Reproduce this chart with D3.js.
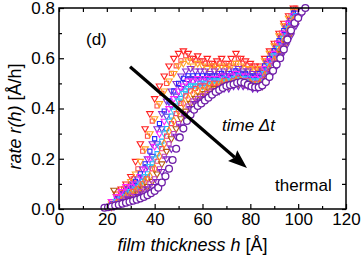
<!DOCTYPE html>
<html>
<head>
<meta charset="utf-8">
<script src="https://cdn.jsdelivr.net/npm/d3@7"></script>
<style>
  body { margin: 0; background: #fff; }
  svg text { font-family: "Liberation Sans", Arial, sans-serif; fill: #000; }
</style>
</head>
<body>
<div id="chart"></div>
<script>
const w = 361, h = 258

// thickness grids (Angstrom); time steps alternate between them
const thicknessEven = [20, 22, 24, 26, 28, 30, 32, 34, 36, 38, 40, 42, 44, 46, 48, 50, 52, 54, 56, 58, 60,
    62, 64, 66, 68, 70, 72, 74, 76, 78, 80, 82, 84, 86, 88, 90, 92, 94, 96, 98, 100, 102]
const thicknessOdd = [21, 23, 25, 27, 29, 31, 33, 35, 37, 39, 41, 43, 45, 47, 49, 51, 53, 55, 57, 59, 61,
    63, 65, 67, 69, 71, 73, 75, 77, 79, 81, 83, 85, 87, 89, 91, 93, 95, 97, 99, 101, 103]
const thicknessThermal = [19, 20.5, 22, 23.5, 25, 26.5, 28, 29.5, 31, 32.5, 34, 35.5, 37, 38.5, 40, 41.5, 43, 44.5, 46, 47.5,
    49, 50.5, 52, 53.5, 55, 56.5, 58, 59.5, 61, 62.5, 64, 65.5, 67, 68.5, 70, 71.5, 73, 74.5, 76, 77.5,
    79, 80.5, 82, 83.5, 85, 86.5, 88, 89.5, 91, 92.5, 94, 95.5, 97, 98.5, 100, 101.5, 103]

// rate r(h) for each time step, earliest first
const rateRed = [null, 0.03, 0.06, 0.08, 0.10, 0.13, 0.19, 0.26, 0.32, 0.38, 0.44, 0.49, 0.53, 0.57, 0.60, 0.62, 0.63, 0.62, 0.60, 0.61, 0.59,
    0.60, 0.58, 0.59, 0.60, 0.58, 0.60, 0.62, 0.60, 0.59, 0.58, 0.57, 0.57, 0.60, 0.63, 0.66, 0.70, 0.74, 0.77, 0.80, null, null]
const rateRose = [null, 0.02, 0.05, 0.08, 0.09, 0.12, 0.16, 0.23, 0.29, 0.35, 0.41, 0.46, 0.50, 0.54, 0.57, 0.59, 0.61, 0.60, 0.59, 0.59, 0.58,
    0.58, 0.57, 0.58, 0.58, 0.57, 0.58, 0.60, 0.58, 0.57, 0.57, 0.56, 0.56, 0.59, 0.62, 0.66, 0.70, 0.73, 0.77, 0.80, null, null]
const rateOrange = [null, 0.02, 0.05, 0.07, 0.09, 0.11, 0.14, 0.19, 0.24, 0.30, 0.36, 0.42, 0.47, 0.51, 0.54, 0.57, 0.58, 0.59, 0.57, 0.58, 0.57,
    0.56, 0.57, 0.56, 0.57, 0.56, 0.57, 0.58, 0.57, 0.56, 0.56, 0.55, 0.56, 0.59, 0.62, 0.65, 0.69, 0.73, 0.76, 0.79, null, null]
const ratePurple = [null, 0.02, 0.04, 0.06, 0.08, 0.10, 0.12, 0.16, 0.20, 0.26, 0.32, 0.38, 0.43, 0.47, 0.50, 0.53, 0.55, 0.56, 0.55, 0.55, 0.55,
    0.54, 0.55, 0.54, 0.55, 0.54, 0.55, 0.56, 0.55, 0.55, 0.54, 0.54, 0.55, 0.58, 0.61, 0.64, 0.68, 0.72, 0.75, 0.78, null, null]
const rateBlue = [null, 0.02, 0.04, 0.05, 0.07, 0.09, 0.11, 0.14, 0.18, 0.23, 0.28, 0.34, 0.39, 0.43, 0.47, 0.50, 0.52, 0.53, 0.53, 0.53, 0.53,
    0.53, 0.53, 0.53, 0.54, 0.53, 0.54, 0.55, 0.54, 0.54, 0.53, 0.53, 0.54, 0.57, 0.60, 0.63, 0.67, 0.71, 0.74, 0.78, null, null]
const rateIndigo = [null, 0.02, 0.04, 0.06, 0.08, 0.09, 0.10, 0.13, 0.17, 0.21, 0.26, 0.32, 0.37, 0.41, 0.45, 0.48, 0.50, 0.52, 0.52, 0.52, 0.52,
    0.53, 0.52, 0.53, 0.53, 0.52, 0.53, 0.54, 0.54, 0.53, 0.53, 0.52, 0.53, 0.56, 0.59, 0.62, 0.66, 0.70, 0.74, 0.77, null, null]
const rateMagenta = [null, 0.03, 0.05, 0.07, 0.09, 0.09, 0.10, 0.13, 0.16, 0.20, 0.25, 0.30, 0.35, 0.40, 0.44, 0.47, 0.49, 0.51, 0.51, 0.52, 0.51,
    0.52, 0.52, 0.52, 0.53, 0.52, 0.53, 0.54, 0.53, 0.53, 0.52, 0.52, 0.53, 0.56, 0.59, 0.62, 0.66, 0.70, 0.74, 0.77, null, null]
const rateCyan = [null, 0.01, 0.03, 0.04, 0.06, 0.07, 0.09, 0.11, 0.14, 0.18, 0.22, 0.27, 0.32, 0.37, 0.41, 0.44, 0.47, 0.49, 0.49, 0.50, 0.50,
    0.51, 0.51, 0.51, 0.52, 0.51, 0.52, 0.53, 0.52, 0.52, 0.51, 0.51, 0.52, 0.55, 0.58, 0.61, 0.65, 0.69, 0.73, 0.77, null, null]
const rateSky = [null, 0.01, 0.03, 0.04, 0.05, 0.07, 0.08, 0.10, 0.13, 0.17, 0.20, 0.25, 0.30, 0.35, 0.39, 0.43, 0.46, 0.48, 0.49, 0.49, 0.49,
    0.50, 0.50, 0.51, 0.51, 0.51, 0.51, 0.52, 0.52, 0.51, 0.51, 0.50, 0.51, 0.54, 0.57, 0.61, 0.64, 0.68, 0.72, 0.76, null, null]
const ratePink = [null, 0.01, 0.03, 0.04, 0.05, 0.07, 0.08, 0.10, 0.12, 0.16, 0.19, 0.24, 0.29, 0.34, 0.38, 0.42, 0.45, 0.47, 0.48, 0.49, 0.49,
    0.50, 0.50, 0.50, 0.51, 0.50, 0.51, 0.52, 0.51, 0.51, 0.50, 0.50, 0.51, 0.54, 0.57, 0.60, 0.64, 0.68, 0.72, 0.76, null, null]
const rateAmber = [null, 0.01, 0.02, 0.03, 0.05, 0.06, 0.07, 0.09, 0.11, 0.13, 0.16, 0.21, 0.26, 0.31, 0.35, 0.39, 0.42, 0.44, 0.46, 0.47, 0.47,
    0.48, 0.49, 0.49, 0.50, 0.50, 0.50, 0.51, 0.51, 0.50, 0.50, 0.49, 0.50, 0.53, 0.56, 0.59, 0.63, 0.67, 0.71, 0.75, null, null]
const rateBrown = [null, 0.075, 0.02, 0.03, 0.04, 0.05, 0.06, 0.08, 0.09, 0.11, 0.14, 0.18, 0.23, 0.28, 0.32, 0.36, 0.39, 0.42, 0.44, 0.45, 0.46,
    0.47, 0.48, 0.48, 0.49, 0.49, 0.50, 0.50, 0.50, 0.50, 0.49, 0.49, 0.49, 0.52, 0.55, 0.58, 0.62, 0.66, 0.70, 0.74, null, null]
const rateOrchid = [null, 0.01, 0.02, 0.03, 0.04, 0.05, 0.05, 0.07, 0.08, 0.10, 0.12, 0.16, 0.21, 0.26, 0.30, 0.34, 0.38, 0.41, 0.43, 0.44, 0.45,
    0.46, 0.47, 0.47, 0.48, 0.49, 0.49, 0.50, 0.50, 0.49, 0.49, 0.48, 0.49, 0.52, 0.55, 0.58, 0.61, 0.65, 0.70, 0.74, null, null]
const rateViolet = [null, 0.01, 0.02, 0.03, 0.04, 0.04, 0.05, 0.06, 0.08, 0.09, 0.11, 0.15, 0.20, 0.24, 0.29, 0.33, 0.37, 0.40, 0.42, 0.43, 0.44,
    0.45, 0.46, 0.47, 0.48, 0.48, 0.49, 0.49, 0.49, 0.49, 0.48, 0.48, 0.49, 0.51, 0.54, 0.57, 0.61, 0.65, 0.69, 0.73, 0.77, null]
const rateThermal = [0.005, 0.007, 0.01, 0.014, 0.017, 0.021, 0.025, 0.029, 0.033, 0.037, 0.042, 0.048, 0.055, 0.063, 0.072, 0.085, 0.105, 0.13, 0.16, 0.195,
    0.24, 0.285, 0.32, 0.35, 0.375, 0.395, 0.41, 0.42, 0.432, 0.443, 0.455, 0.466, 0.474, 0.482, 0.49, 0.494, 0.497, 0.502, 0.505, 0.502,
    0.495, 0.488, 0.485, 0.485, 0.492, 0.505, 0.525, 0.55, 0.575, 0.60, 0.635, 0.675, 0.71, 0.74, 0.76, 0.785, 0.80]

const seriesRates = [rateRed, rateRose, rateOrange, ratePurple, rateBlue, rateIndigo, rateMagenta, rateCyan,
    rateSky, ratePink, rateAmber, rateBrown, rateOrchid, rateViolet]
const seriesColors = ["#ff2020", "#ff4a4a", "#ffa024", "#8c2fd0", "#2626ff", "#5a3ae0", "#ff22ff", "#1fb0ff",
    "#38c8f0", "#ff3c6e", "#ff8a1a", "#b35a10", "#c040c0", "#7a22c8"]
const seriesShapes = ["tri", "sq", "tri", "tri", "sq", "tri", "tri", "sq", "tri", "sq", "dia", "tri", "sq", "tri"]
const thermalColor = "#6f1fa8"

const xTicks = [0, 20, 40, 60, 80, 100, 120]
const xMinor = [10, 30, 50, 70, 90, 110]
const yTicks = [0, 0.2, 0.4, 0.6, 0.8]
const yMinor = [0.1, 0.3, 0.5, 0.7]

// plot area
const pLeft = 59, pRight = 346, pTop = 8, pBottom = 209

const x = d3.scaleLinear().domain([0, 120]).range([pLeft, pRight])
const y = d3.scaleLinear().domain([0, 0.8]).range([pBottom, pTop])

const svg = d3.select("#chart").append("svg")
    .attr("width", w)
    .attr("height", h)

// markers
const tri = d3.symbol().type(d3.symbolTriangle).size(18)
const sq = d3.symbol().type(d3.symbolSquare).size(17)
const dia = d3.symbol().type(d3.symbolDiamond).size(20)

seriesRates.forEach((rates, si) => {
    const grid = si % 2 == 0 ? thicknessEven : thicknessOdd
    const pts = grid.map((t, i) => ({ h: t, r: rates[i] })).filter(d => d.r != null)
    const shape = seriesShapes[si]
    const gen = shape == "tri" ? tri : shape == "sq" ? sq : dia
    svg.append("g").attr("class", "series")
        .selectAll("path").data(pts).enter().append("path")
        .attr("d", gen)
        .attr("transform", d => "translate(" + x(d.h) + "," + y(d.r) + ")" + (shape == "tri" ? " rotate(180)" : ""))
        .attr("fill", "none")
        .attr("stroke", seriesColors[si])
        .attr("stroke-width", 1.1)
})

// thermal (last) curve, open circles
const thermalPts = thicknessThermal.map((t, i) => ({ h: t, r: rateThermal[i] }))
svg.append("g").attr("class", "thermal")
    .selectAll("circle").data(thermalPts).enter().append("circle")
    .attr("cx", d => x(d.h))
    .attr("cy", d => y(d.r))
    .attr("r", 3.4)
    .attr("fill", "white")
    .attr("stroke", thermalColor)
    .attr("stroke-width", 1.3)

// frame
svg.append("rect")
    .attr("x", pLeft).attr("y", pTop)
    .attr("width", pRight - pLeft).attr("height", pBottom - pTop)
    .attr("fill", "none").attr("stroke", "black").attr("stroke-width", 1.5)

function styleAxis(g) {
    g.select(".domain").remove()
    g.selectAll(".tick line").attr("stroke", "black").attr("stroke-width", 1.2)
    g.selectAll("text").attr("font-size", 17).attr("fill", "black")
        .attr("font-family", "'Liberation Sans', Arial, sans-serif")
}

svg.append("g").attr("transform", "translate(0," + pBottom + ")")
    .call(d3.axisBottom(x).tickValues(xTicks).tickSize(-5).tickPadding(4).tickFormat(d3.format("d")))
    .call(styleAxis)
svg.append("g").attr("transform", "translate(0," + pBottom + ")")
    .call(d3.axisBottom(x).tickValues(xMinor).tickSize(-3).tickFormat(""))
    .call(styleAxis)
svg.append("g").attr("transform", "translate(0," + pTop + ")")
    .call(d3.axisTop(x).tickValues(xTicks.concat(xMinor)).tickSize(-4).tickFormat(""))
    .call(styleAxis)

svg.append("g").attr("transform", "translate(" + pLeft + ",0)")
    .call(d3.axisLeft(y).tickValues(yTicks).tickSize(-5).tickPadding(4).tickFormat(d3.format(".1f")))
    .call(styleAxis)
svg.append("g").attr("transform", "translate(" + pLeft + ",0)")
    .call(d3.axisLeft(y).tickValues(yMinor).tickSize(-3).tickFormat(""))
    .call(styleAxis)
svg.append("g").attr("transform", "translate(" + pRight + ",0)")
    .call(d3.axisRight(y).tickValues(yTicks.concat(yMinor)).tickSize(-4).tickFormat(""))
    .call(styleAxis)

// axis titles
const xt = svg.append("text")
    .attr("x", (pLeft + pRight) / 2 - 10)
    .attr("y", 251)
    .attr("text-anchor", "middle")
    .attr("font-size", 18)
xt.append("tspan").attr("font-style", "italic").text("film thickness h ")
xt.append("tspan").text("[Å]")

const yt = svg.append("text")
    .attr("transform", "translate(21," + ((pTop + pBottom) / 2 + 8) + ") rotate(-90)")
    .attr("text-anchor", "middle")
    .attr("font-size", 18)
yt.append("tspan").attr("font-style", "italic").text("rate r(h) ")
yt.append("tspan").text("[Å/h]")

// annotations
svg.append("text").attr("x", 86).attr("y", 45).attr("font-size", 17).text("(d)")
svg.append("text").attr("x", 222).attr("y", 131).attr("font-size", 17)
    .attr("font-style", "italic").text("time Δt")
svg.append("text").attr("x", 275).attr("y", 191).attr("font-size", 17).text("thermal")

// arrow
const a0 = [x(29.7), y(0.566)], a1 = [x(78.6), y(0.163)]
const ang = Math.atan2(a1[1] - a0[1], a1[0] - a0[0])
const headLen = 16, headW = 7
const base = [a1[0] - headLen * Math.cos(ang), a1[1] - headLen * Math.sin(ang)]
svg.append("line")
    .attr("x1", a0[0]).attr("y1", a0[1])
    .attr("x2", base[0]).attr("y2", base[1])
    .attr("stroke", "black").attr("stroke-width", 3.2)
svg.append("path")
    .attr("d", "M" + a1 + "L" + [base[0] + headW * Math.sin(ang) - 3 * Math.cos(ang), base[1] - headW * Math.cos(ang) - 3 * Math.sin(ang)]
        + "L" + base + "L" + [base[0] - headW * Math.sin(ang) - 3 * Math.cos(ang), base[1] + headW * Math.cos(ang) - 3 * Math.sin(ang)] + "Z")
    .attr("fill", "black")
</script>
</body>
</html>
